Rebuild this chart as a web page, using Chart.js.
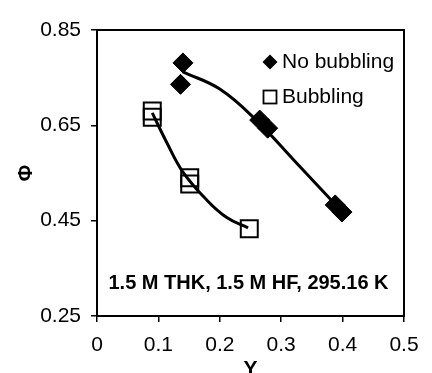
<!DOCTYPE html>
<html><head><meta charset="utf-8">
<script src="https://cdn.jsdelivr.net/npm/chart.js@4"></script>
<style>html,body{margin:0;padding:0;background:#fff}#wrap{width:432px;height:373px}</style>
</head><body><div id="wrap"><canvas id="c" width="432" height="373"></canvas></div>
<script>
const noBubX = [0.14, 0.136, 0.265, 0.278, 0.388, 0.399];
const noBubY = [0.781, 0.736, 0.661, 0.644, 0.483, 0.468];
const bubX = [0.09, 0.09, 0.151, 0.151, 0.248];
const bubY = [0.680, 0.667, 0.540, 0.527, 0.433];
const noBubFitX = [0.14, 0.20, 0.26, 0.32, 0.397];
const noBubFitY = [0.762, 0.726, 0.660, 0.578, 0.472];
const bubFitX = [0.09, 0.114, 0.14, 0.179, 0.212, 0.246];
const bubFitY = [0.676, 0.613, 0.552, 0.493, 0.456, 0.435];
const xTicks = [0, 0.1, 0.2, 0.3, 0.4, 0.5];
const yTicks = [0.25, 0.45, 0.65, 0.85];
const seriesNames = ['No bubbling', 'Bubbling'];
const note = '1.5 M THK, 1.5 M HF, 295.16 K';

const pts = (xs, ys) => xs.map((x, i) => ({x, y: ys[i]}));
const FONT = "'Liberation Sans', Arial, sans-serif";

const extras = {
  id: 'extras',
  afterDraw(chart) {
    const {ctx, chartArea: a} = chart;
    ctx.save();
    ctx.strokeStyle = '#000'; ctx.lineWidth = 2;
    ctx.strokeRect(a.left, a.top, a.right - a.left, a.bottom - a.top);
    // legend
    const lx = a.left + 173, ly1 = a.top + 32, ly2 = a.top + 67;
    ctx.fillStyle = '#000';
    ctx.beginPath();
    ctx.moveTo(lx, ly1 - 7.5); ctx.lineTo(lx + 7.5, ly1); ctx.lineTo(lx, ly1 + 7.5); ctx.lineTo(lx - 7.5, ly1); ctx.closePath();
    ctx.fill();
    ctx.lineWidth = 1.8;
    ctx.strokeRect(lx - 6.5, ly2 - 6.5, 13, 13);
    ctx.font = '21px ' + FONT;
    ctx.textBaseline = 'middle'; ctx.textAlign = 'left';
    ctx.fillText(seriesNames[0], lx + 12, ly1);
    ctx.fillText(seriesNames[1], lx + 12, ly2);
    ctx.font = 'bold 20px ' + FONT;
    ctx.textAlign = 'center';
    ctx.fillText(note, (a.left + a.right) / 2 - 2, a.bottom - 33);
    ctx.restore();
  }
};

new Chart(document.getElementById('c'), {
  type: 'scatter',
  data: {
    datasets: [
      {label: 'No bubbling fit', data: pts(noBubFitX, noBubFitY), showLine: true, borderColor: '#000', borderWidth: 3, pointRadius: 0, tension: 0.4, fill: false},
      {label: 'Bubbling fit', data: pts(bubFitX, bubFitY), showLine: true, borderColor: '#000', borderWidth: 3, pointRadius: 0, tension: 0.4, fill: false},
      {label: seriesNames[0], data: pts(noBubX, noBubY), pointStyle: 'rectRot', pointRadius: 10, backgroundColor: '#000', borderColor: '#000', borderWidth: 1},
      {label: seriesNames[1], data: pts(bubX, bubY), pointStyle: 'rect', pointRadius: 12, backgroundColor: 'rgba(255,255,255,0)', borderColor: '#000', borderWidth: 2}
    ]
  },
  options: {
    responsive: false, animation: false, devicePixelRatio: 1,
    layout: {padding: {top: 30, right: 28, left: 0, bottom: 0}},
    plugins: {legend: {display: false}, tooltip: {enabled: false}},
    scales: {
      x: {
        type: 'linear', min: 0, max: 0.5,
        afterBuildTicks: s => { s.ticks = xTicks.map(v => ({value: v})); },
        afterFit: s => { s.height = 57; },
        ticks: {color: '#000', font: {size: 21, family: FONT}, padding: 11, maxRotation: 0, callback: v => String(v)},
        grid: {drawOnChartArea: false, drawTicks: true, tickLength: 6, color: '#000', lineWidth: 1.5},
        border: {color: '#000', width: 2},
        title: {display: true, text: 'Y', color: '#000', font: {size: 21, weight: 'bold', family: FONT}, padding: {top: 0, bottom: -9}}
      },
      y: {
        type: 'linear', min: 0.25, max: 0.85,
        afterBuildTicks: s => { s.ticks = yTicks.map(v => ({value: v})); },
        afterFit: s => { s.width = 97; },
        ticks: {color: '#000', font: {size: 21, family: FONT}, padding: 10, callback: v => v.toFixed(2)},
        grid: {drawOnChartArea: false, drawTicks: true, tickLength: 6, color: '#000', lineWidth: 1.5},
        border: {color: '#000', width: 2},
        title: {display: true, text: 'Φ', color: '#000', font: {size: 20, weight: 'bold', family: FONT}, padding: {top: 14, bottom: 0}}
      }
    }
  },
  plugins: [extras]
});
</script></body></html>
